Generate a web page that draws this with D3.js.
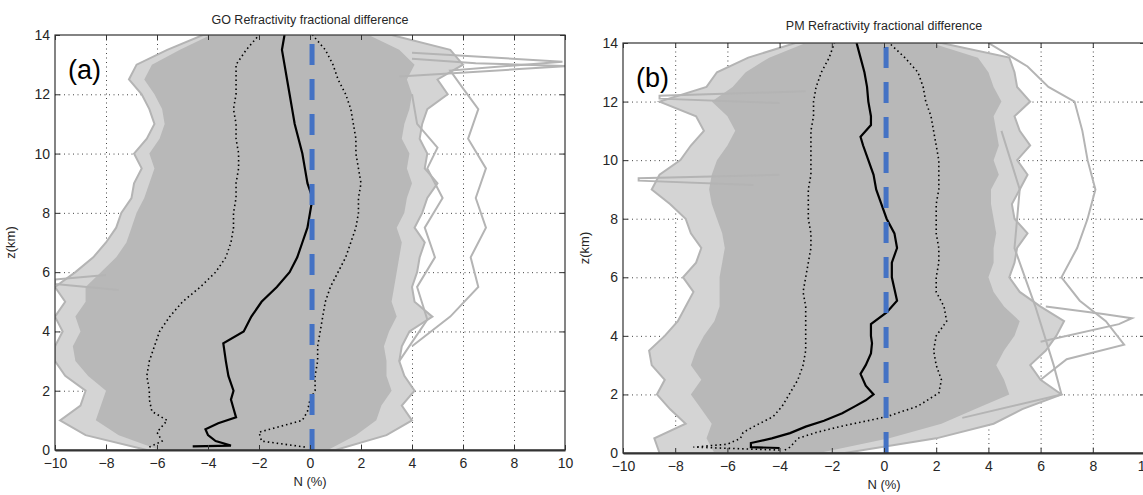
<!doctype html>
<html>
<head>
<meta charset="utf-8">
<title>Refractivity fractional difference</title>
<script src="https://cdnjs.cloudflare.com/ajax/libs/d3/7.8.5/d3.min.js"></script>
<style>
	body { margin: 0; background: #fff; }
	svg text { font-family: "Liberation Sans", Arial, sans-serif; fill: #262626; }
</style>
</head>
<body>
<div id="main"></div>
<script>
// tick values shared by both panels
var xTicks = [-10, -8, -6, -4, -2, 0, 2, 4, 6, 8, 10];
var zTicks = [0, 2, 4, 6, 8, 10, 12, 14];
// heights (km) the spread envelopes are sampled at
var zGrid = [0, 0.5, 1, 1.5, 2, 2.5, 3, 3.5, 4, 4.5, 5, 5.5, 6, 6.5, 7, 7.5, 8, 8.5, 9, 9.5, 10, 10.5, 11, 11.5, 12, 12.5, 13, 13.5, 14];
var refLineX = 0.08;

// ---- panel (a) GO ----
var aCoreLeft = [-5.9, -7.5, -8.4, -8.2, -8.0, -8.7, -9.2, -9.3, -9.0, -9.2, -8.8, -8.8, -8.2, -7.6, -7.2, -7.0, -6.8, -6.5, -6.3, -6.1, -6.3, -5.9, -5.7, -5.8, -6.1, -6.5, -6.2, -5.1, -3.9];
var aCoreRight = [0.7, 1.8, 2.6, 2.8, 3.2, 3.0, 3.0, 2.9, 3.1, 3.4, 3.2, 3.3, 3.4, 3.5, 3.6, 3.4, 3.7, 3.8, 4.0, 3.8, 3.9, 3.6, 3.7, 3.9, 4.0, 3.8, 4.1, 3.5, 2.3];
var aOuterLeft = [-6.4, -8.8, -9.8, -9.0, -8.8, -9.6, -10, -10, -9.7, -10, -9.6, -10, -9.2, -8.5, -8.0, -7.6, -7.4, -7.0, -6.9, -6.6, -6.9, -6.4, -6.1, -6.3, -6.6, -7.1, -6.8, -5.6, -4.2];
var aOuterRight = [1.0, 3.0, 4.0, 3.6, 4.1, 3.7, 3.5, 3.6, 3.9, 4.8, 4.1, 4.0, 4.2, 4.3, 4.5, 4.1, 4.4, 4.6, 5.0, 4.5, 4.6, 4.3, 4.4, 4.6, 5.4, 5.0, 6.0, 5.5, 3.2];

var aMeanZ = [0.12, 0.15, 0.3, 0.5, 0.7, 0.9, 1.1, 1.4, 1.7, 2.0, 2.5, 3.0, 3.6, 4.0, 4.5, 5.0, 5.5, 6.0, 6.5, 7.0, 7.5, 8.0, 8.5, 9.0, 9.5, 10.0, 10.5, 11.0, 11.5, 12.0, 12.5, 13.0, 13.5, 14.0];
var aMeanX = [-4.6, -3.1, -3.7, -4.0, -4.1, -3.6, -2.9, -3.0, -3.1, -3.0, -3.2, -3.3, -3.4, -2.6, -2.3, -1.9, -1.3, -0.8, -0.5, -0.3, -0.1, 0.0, 0.1, -0.1, -0.2, -0.3, -0.45, -0.6, -0.7, -0.8, -0.9, -1.0, -1.1, -1.0];

var aStdZ = [0.1, 0.3, 0.6, 1.0, 1.3, 1.7, 2.0, 2.5, 3.0, 3.5, 4.0, 4.5, 5.0, 5.5, 6.0, 6.5, 7.0, 7.5, 8.0, 8.5, 9.0, 9.5, 10.0, 10.5, 11.0, 11.5, 12.0, 12.5, 13.0, 13.5, 14.0];
var aLowX = [-6.3, -5.8, -6.0, -5.6, -6.2, -6.3, -6.3, -6.4, -6.3, -6.1, -5.9, -5.5, -5.0, -4.3, -3.7, -3.3, -3.1, -3.0, -3.0, -2.9, -2.9, -2.8, -2.8, -2.9, -2.9, -3.0, -2.9, -2.9, -2.9, -2.5, -2.0];
var aHighX = [-0.2, -1.9, -2.0, -0.3, -0.1, 0.0, 0.2, 0.2, 0.3, 0.3, 0.4, 0.5, 0.6, 0.8, 1.1, 1.4, 1.6, 1.8, 1.9, 1.9, 2.0, 1.9, 1.8, 1.8, 1.7, 1.6, 1.4, 1.1, 0.9, 0.6, 0.1];

// single profiles standing out of the bundle
var aOutliers = [
	{ z: [3.5, 4.5, 5.5, 6.5, 7.5, 8.5, 9.5, 10.5, 11.5, 12.2, 12.8, 13.1, 13.4], x: [4.0, 5.5, 6.6, 6.3, 6.9, 6.5, 6.9, 6.2, 6.6, 6.0, 5.5, 9.9, 4.0] },
	{ z: [3.0, 4.4, 5.5, 6.5, 7.5, 8.5, 9.5, 10.2, 11.0, 12.0], x: [3.5, 4.6, 4.2, 4.9, 4.5, 5.2, 4.6, 5.0, 4.2, 4.0] },
	{ z: [12.6, 12.85, 12.95, 13.05, 13.2], x: [3.5, 8.2, 10, 6.5, 4.0] },
	{ z: [5.4, 5.6, 5.75, 5.9], x: [-7.5, -10, -10, -8.0] }
];

// ---- panel (b) PM ----
var bCoreLeft = [-6.5, -6.8, -6.6, -7.0, -7.4, -7.0, -7.4, -7.2, -6.9, -6.5, -6.3, -6.3, -6.3, -6.2, -6.1, -6.2, -6.4, -6.6, -6.7, -6.6, -6.4, -6.0, -5.7, -6.0, -6.6, -5.8, -5.3, -4.4, -3.0];
var bCoreRight = [-2.5, 0.2, 2.2, 3.5, 4.8, 4.6, 4.3, 4.6, 5.0, 5.2, 4.6, 4.2, 4.0, 4.2, 4.2, 4.3, 4.2, 4.1, 4.1, 4.4, 4.2, 4.4, 4.3, 4.2, 4.5, 4.2, 4.0, 3.6, 1.8];
var bOuterLeft = [-8.6, -8.8, -7.6, -8.2, -8.7, -8.4, -8.9, -9.0, -8.4, -7.9, -7.6, -7.3, -7.7, -7.2, -7.0, -7.4, -7.6, -8.2, -8.9, -8.6, -7.8, -7.4, -6.9, -7.2, -8.6, -6.8, -6.4, -5.2, -3.4];
var bOuterRight = [-1.5, 2.0, 4.2, 5.3, 6.8, 6.0, 5.6, 6.2, 6.6, 6.9, 6.0, 5.2, 4.8, 5.0, 5.1, 5.5, 5.0, 4.9, 5.2, 5.5, 5.1, 5.6, 5.2, 5.0, 5.6, 5.1, 5.0, 4.8, 2.2];

var bMeanZ = [0.17, 0.2, 0.34, 0.5, 0.68, 0.9, 1.1, 1.36, 1.6, 1.8, 2.0, 2.3, 2.7, 3.0, 3.4, 3.75, 4.0, 4.4, 4.8, 5.2, 5.6, 6.0, 6.5, 7.0, 7.5, 8.0, 8.5, 9.0, 9.5, 10.0, 10.5, 10.8, 11.2, 11.5, 12.0, 12.5, 13.0, 13.5, 14.0];
var bMeanX = [-4.0, -5.1, -5.1, -4.3, -3.6, -3.0, -2.3, -1.6, -1.1, -0.7, -0.4, -0.7, -0.9, -0.7, -0.5, -0.46, -0.5, -0.5, 0.1, 0.5, 0.4, 0.3, 0.3, 0.5, 0.4, 0.1, -0.1, -0.3, -0.4, -0.6, -0.8, -0.9, -0.5, -0.5, -0.6, -0.65, -0.75, -0.9, -1.05];

var bStdZ = [0.1, 0.2, 0.3, 0.5, 0.7, 0.9, 1.24, 1.6, 2.05, 2.5, 3.0, 3.5, 4.0, 4.5, 5.0, 5.5, 6.0, 6.5, 7.0, 7.5, 8.0, 8.5, 9.0, 9.5, 10.0, 10.5, 11.0, 11.5, 12.0, 12.5, 13.0, 13.5, 14.0];
var bLowX = [-4.0, -7.3, -6.0, -5.5, -5.4, -5.0, -4.25, -3.9, -3.6, -3.3, -3.1, -3.0, -3.0, -3.0, -3.0, -3.1, -3.0, -2.9, -2.8, -2.8, -2.9, -2.9, -2.9, -2.8, -2.8, -2.8, -2.8, -2.7, -2.7, -2.6, -2.4, -2.1, -1.9];
var bHighX = [-3.8, -3.6, -3.5, -3.3, -2.6, -1.7, 0.1, 1.3, 2.1, 2.2, 2.0, 1.9, 2.0, 2.4, 2.3, 2.0, 2.0, 2.1, 2.1, 2.0, 2.0, 2.0, 2.1, 2.1, 2.1, 2.0, 1.9, 1.8, 1.6, 1.5, 1.3, 0.8, 0.2];

var bOutliers = [
	{ z: [14.0, 13.2, 12.5, 12.0, 11.0, 10.0, 9.0, 8.0, 7.0, 6.0, 5.2, 4.5, 3.7, 3.2, 2.5], x: [4.0, 5.5, 6.3, 7.3, 7.6, 7.8, 8.1, 7.8, 7.4, 6.8, 7.5, 8.5, 9.2, 7.0, 6.0] },
	{ z: [11.0, 9.0, 7.0, 5.0, 3.0, 2.0, 1.2], x: [4.5, 5.2, 5.0, 5.8, 6.5, 6.8, 3.0] },
	{ z: [3.8, 4.4, 4.6, 4.75, 5.0], x: [6.0, 9.0, 9.5, 8.4, 6.2] },
	{ z: [12.35, 12.2, 12.1, 11.95], x: [-3.0, -8.6, -8.6, -4.0] },
	{ z: [9.5, 9.38, 9.3, 9.15], x: [-4.0, -9.4, -9.4, -5.0] }
];

var svg = d3.select('#main').append('svg')
	.attr('width', 1143)
	.attr('height', 495);

drawPanel({
	id: 'a', left: 55, top: 35, width: 510, height: 415, titleY: -11, zLabelX: -40,
	title: 'GO Refractivity fractional difference', tag: '(a)',
	coreLeft: aCoreLeft, coreRight: aCoreRight, outerLeft: aOuterLeft, outerRight: aOuterRight,
	outliers: aOutliers,
	meanZ: aMeanZ, meanX: aMeanX, stdZ: aStdZ, lowX: aLowX, highX: aHighX
});
drawPanel({
	id: 'b', left: 623, top: 43, width: 522, height: 410, titleY: -13, zLabelX: -34,
	title: 'PM Refractivity fractional difference', tag: '(b)',
	coreLeft: bCoreLeft, coreRight: bCoreRight, outerLeft: bOuterLeft, outerRight: bOuterRight,
	outliers: bOutliers,
	meanZ: bMeanZ, meanX: bMeanX, stdZ: bStdZ, lowX: bLowX, highX: bHighX
});

function drawPanel(p) {
	var x = d3.scaleLinear().domain([-10, 10]).range([0, p.width]);
	var y = d3.scaleLinear().domain([0, 14]).range([p.height, 0]);

	var g = svg.append('g').attr('transform', 'translate(' + p.left + ',' + p.top + ')');

	svg.append('clipPath').attr('id', 'clip-' + p.id)
		.append('rect').attr('width', p.width).attr('height', p.height);

	// dotted grid
	g.append('g')
		.attr('transform', 'translate(0,' + p.height + ')')
		.call(d3.axisBottom(x).tickValues(xTicks.slice(1, -1)).tickSize(-p.height).tickFormat(''))
		.call(function(s) {
			s.select('.domain').remove();
			s.selectAll('line').attr('stroke', '#444').attr('stroke-dasharray', '1,3.5');
		});
	g.append('g')
		.call(d3.axisLeft(y).tickValues(zTicks.slice(1, -1)).tickSize(-p.width).tickFormat(''))
		.call(function(s) {
			s.select('.domain').remove();
			s.selectAll('line').attr('stroke', '#444').attr('stroke-dasharray', '1,3.5');
		});

	var plot = g.append('g').attr('clip-path', 'url(#clip-' + p.id + ')');

	var rows = zGrid.map(function(z, i) {
		return { z: z, ol: p.outerLeft[i], or: p.outerRight[i], cl: p.coreLeft[i], cr: p.coreRight[i] };
	});

	// spread of the individual profiles: sparse outer part, dense core
	plot.append('path').datum(rows)
		.attr('d', d3.area()
			.y(function(d) { return y(d.z); })
			.x0(function(d) { return x(d.ol); })
			.x1(function(d) { return x(d.or); }))
		.attr('fill', '#d4d4d4')
		.attr('stroke', '#b4b4b4')
		.attr('stroke-width', 2);

	plot.append('path').datum(rows)
		.attr('d', d3.area()
			.y(function(d) { return y(d.z); })
			.x0(function(d) { return x(d.cl); })
			.x1(function(d) { return x(d.cr); }))
		.attr('fill', '#b8b8b8');

	var profile = d3.line()
		.x(function(d) { return x(d[0]); })
		.y(function(d) { return y(d[1]); });

	p.outliers.forEach(function(o) {
		plot.append('path')
			.datum(o.x.map(function(v, i) { return [v, o.z[i]]; }))
			.attr('d', profile)
			.attr('fill', 'none')
			.attr('stroke', '#b4b4b4')
			.attr('stroke-width', 2);
	});

	// mean +- std (dotted)
	[p.lowX, p.highX].forEach(function(arr) {
		plot.append('path')
			.datum(arr.map(function(v, i) { return [v, p.stdZ[i]]; }))
			.attr('d', profile)
			.attr('fill', 'none')
			.attr('stroke', '#000')
			.attr('stroke-width', 1.6)
			.attr('stroke-dasharray', '1.5,3');
	});

	// mean
	plot.append('path')
		.datum(p.meanX.map(function(v, i) { return [v, p.meanZ[i]]; }))
		.attr('d', profile)
		.attr('fill', 'none')
		.attr('stroke', '#000')
		.attr('stroke-width', 2.2);

	// reference line
	g.append('line')
		.attr('x1', x(refLineX)).attr('x2', x(refLineX))
		.attr('y1', y(0)).attr('y2', y(14))
		.attr('stroke', '#4472c4')
		.attr('stroke-width', 5)
		.attr('stroke-dasharray', '21,14');

	// axes: box with inward ticks
	g.append('rect')
		.attr('width', p.width).attr('height', p.height)
		.attr('fill', 'none').attr('stroke', '#333').attr('stroke-width', 1.2);

	var bottom = g.append('g')
		.attr('transform', 'translate(0,' + p.height + ')')
		.call(d3.axisBottom(x).tickValues(xTicks).tickSizeInner(-5).tickSizeOuter(0).tickPadding(8));
	bottom.select('.domain').attr('stroke', '#333').attr('stroke-width', 2);
	g.append('g')
		.call(d3.axisTop(x).tickValues(xTicks).tickSizeInner(-5).tickSizeOuter(0).tickFormat(''))
		.select('.domain').remove();
	g.append('g')
		.call(d3.axisLeft(y).tickValues(zTicks).tickSizeInner(-5).tickSizeOuter(0).tickPadding(5))
		.select('.domain').remove();
	g.append('g')
		.attr('transform', 'translate(' + p.width + ',0)')
		.call(d3.axisRight(y).tickValues(zTicks).tickSizeInner(-5).tickSizeOuter(0).tickFormat(''))
		.select('.domain').remove();

	g.selectAll('.tick line').filter(function() { return !this.getAttribute('stroke-dasharray'); })
		.attr('stroke', '#333');
	g.selectAll('.tick text')
		.attr('font-family', '"Liberation Sans", Arial, sans-serif')
		.attr('font-size', 14)
		.attr('fill', '#262626');

	// labels
	g.append('text')
		.attr('x', p.width / 2).attr('y', p.titleY)
		.attr('text-anchor', 'middle')
		.attr('font-size', 12.5)
		.text(p.title);
	g.append('text')
		.attr('x', p.width / 2).attr('y', p.height + 36)
		.attr('text-anchor', 'middle')
		.attr('font-size', 13)
		.text('N (%)');
	g.append('text')
		.attr('transform', 'translate(' + p.zLabelX + ',' + (p.height / 2) + ') rotate(-90)')
		.attr('text-anchor', 'middle')
		.attr('font-size', 13)
		.text('z(km)');
	g.append('text')
		.attr('x', 13).attr('y', 44)
		.attr('font-family', '"Open Sans", "Liberation Sans", sans-serif')
		.attr('font-size', 27)
		.style('fill', '#000')
		.text(p.tag);
}
</script>
</body>
</html>
